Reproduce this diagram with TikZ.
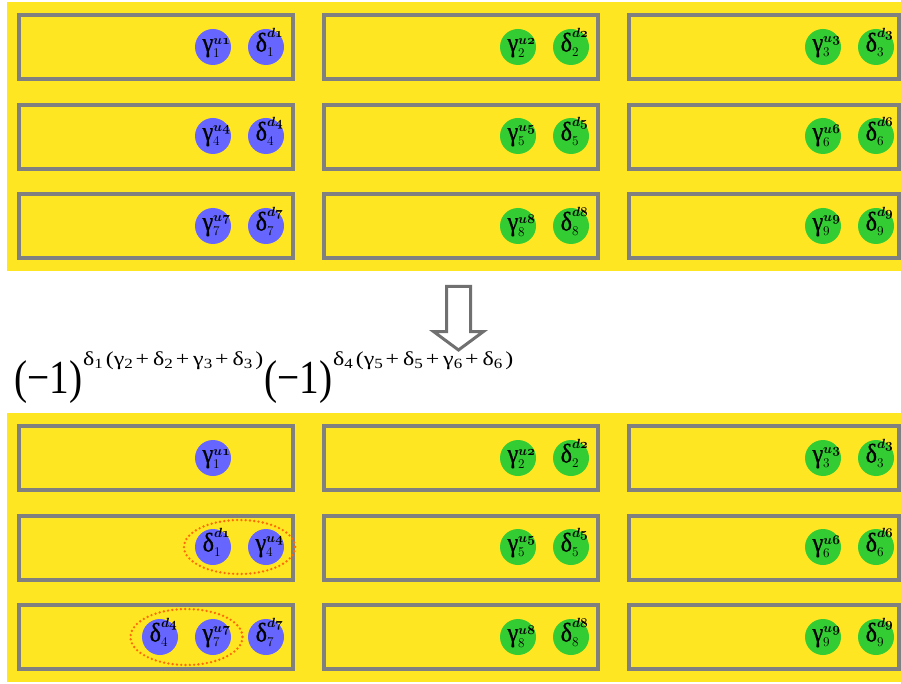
\documentclass[tikz,border=0pt]{standalone}
\usepackage{fix-cm}
\usepackage{amsmath}
\usepackage{graphicx}
\usepackage[no-math]{fontspec}
\newfontfamily\grk{Liberation Serif}
\newfontfamily\grkdot[FakeBold=0.8]{Liberation Serif}
\usetikzlibrary{calc}

\definecolor{panelyellow}{RGB}{255,230,35}
\definecolor{framegray}{RGB}{128,128,128}
\definecolor{ublue}{RGB}{102,102,255}
\definecolor{dgreen}{RGB}{51,204,51}
\definecolor{pairorange}{RGB}{255,105,10}
\definecolor{arrowgray}{RGB}{112,112,112}

% circle label: Greek letter with index below and bold italic tag above,
% set on a zero-size box so that it sits slightly right of and above the centre
\newcommand\lbl[3]{\makebox[0pt]{\hspace*{7pt}\smash{\raisebox{-4.5pt}{\fontsize{19}{19}\selectfont$\mbox{\scalebox{1}[1.12]{\fontsize{24}{24}\selectfont\grkdot #1}}_{#2}^{\boldsymbol{\mathnormal{#3}}}$}}}}
\newcommand\gam[1]{\lbl{γ}{#1}{u#1}}
\newcommand\del[1]{\lbl{δ}{#1}{d#1}}
% small index inside the exponent
\newcommand\sbs[1]{\raisebox{-3pt}{\fontsize{15}{15}\selectfont#1}\kern2.5pt}
\newcommand\mone{\resizebox*{68pt}{43pt}{\grk\fontsize{40}{40}\selectfont(−1)}}
\newcommand\expo[1]{\resizebox*{180pt}{18pt}{\grk\fontsize{21}{21}\selectfont#1}}

\begin{document}
\begin{tikzpicture}[x=1pt, y=-1pt,
  panel/.style={fill=panelyellow, draw=none},
  cell/.style={draw=framegray, line width=4pt},
  bluedot/.style={circle, fill=ublue, minimum size=36pt, inner sep=0pt},
  greendot/.style={circle, fill=dgreen, minimum size=36pt, inner sep=0pt},
  formula/.style={inner sep=0pt, anchor=south west},
  pair/.style={draw=pairorange, line width=2.6pt, line cap=round, dash pattern=on 0pt off 4.3pt},
  hollowarrow/.style={draw=arrowgray, line width=3pt, line join=miter, fill=white}]
\useasboundingbox (0,0) rectangle (901,684);

% yellow backgrounds
\fill[panel] (7,2) rectangle (901,271);
\fill[panel] (7,413) rectangle (901,682);

% frames, upper and lower grids
\foreach \yt/\yb in {15/79, 105/169, 194/258, 426/490, 516/580, 605/669}{
  \draw[cell] (19,\yt) rectangle (293,\yb);
  \draw[cell] (324,\yt) rectangle (598,\yb);
  \draw[cell] (629,\yt) rectangle (899,\yb);
}

% upper grid
\node[bluedot] (tg1) at (213,47) {\gam1};
\node[bluedot] (td1) at (266,47) {\del1};
\node[greendot] (tg2) at (518,47) {\gam2};
\node[greendot] (td2) at (571,47) {\del2};
\node[greendot] (tg3) at (823,47) {\gam3};
\node[greendot] (td3) at (876,47) {\del3};

\node[bluedot] (tg4) at (213,136) {\gam4};
\node[bluedot] (td4) at (266,136) {\del4};
\node[greendot] (tg5) at (518,136) {\gam5};
\node[greendot] (td5) at (571,136) {\del5};
\node[greendot] (tg6) at (823,136) {\gam6};
\node[greendot] (td6) at (876,136) {\del6};

\node[bluedot] (tg7) at (213,226) {\gam7};
\node[bluedot] (td7) at (266,226) {\del7};
\node[greendot] (tg8) at (518,226) {\gam8};
\node[greendot] (td8) at (571,226) {\del8};
\node[greendot] (tg9) at (823,226) {\gam9};
\node[greendot] (td9) at (876,226) {\del9};

% arrow between the grids
\draw[hollowarrow] (446.5,286.5) -- (470.5,286.5) -- (470.5,331.5) -- (483.5,331.5)
  -- (458.5,350) -- (433.5,331.5) -- (446.5,331.5) -- cycle;

% sign factors
\node[formula] (m1) at (14,404) {\mone};
\node[formula] (e1) at (83,370) {\expo{δ\sbs{1}(γ\sbs{2}+\,δ\sbs{2}+\,γ\sbs{3}+\,δ\sbs{3})}};
\node[formula] (m2) at (264,404) {\mone};
\node[formula] (e2) at (333,370) {\expo{δ\sbs{4}(γ\sbs{5}+\,δ\sbs{5}+\,γ\sbs{6}+\,δ\sbs{6})}};

% lower grid
\node[bluedot] (bg1) at (213,458) {\gam1};
\node[greendot] (bg2) at (518,458) {\gam2};
\node[greendot] (bd2) at (571,458) {\del2};
\node[greendot] (bg3) at (823,458) {\gam3};
\node[greendot] (bd3) at (876,458) {\del3};

\node[bluedot] (bd1) at (213,547) {\del1};
\node[bluedot] (bg4) at (266,547) {\gam4};
\node[greendot] (bg5) at (518,547) {\gam5};
\node[greendot] (bd5) at (571,547) {\del5};
\node[greendot] (bg6) at (823,547) {\gam6};
\node[greendot] (bd6) at (876,547) {\del6};

\node[bluedot] (bd4) at (160,637) {\del4};
\node[bluedot] (bg7) at (213,637) {\gam7};
\node[bluedot] (bd7) at (266,637) {\del7};
\node[greendot] (bg8) at (518,637) {\gam8};
\node[greendot] (bd8) at (571,637) {\del8};
\node[greendot] (bg9) at (823,637) {\gam9};
\node[greendot] (bd9) at (876,637) {\del9};

% dotted rings around the moved pairs
\draw[pair] ($(bd1)!0.5!(bg4)$) ellipse [x radius=55.5, y radius=27];
\draw[pair] ($(bd4)!0.5!(bg7)$) ellipse [x radius=56, y radius=28];
\end{tikzpicture}
\end{document}
